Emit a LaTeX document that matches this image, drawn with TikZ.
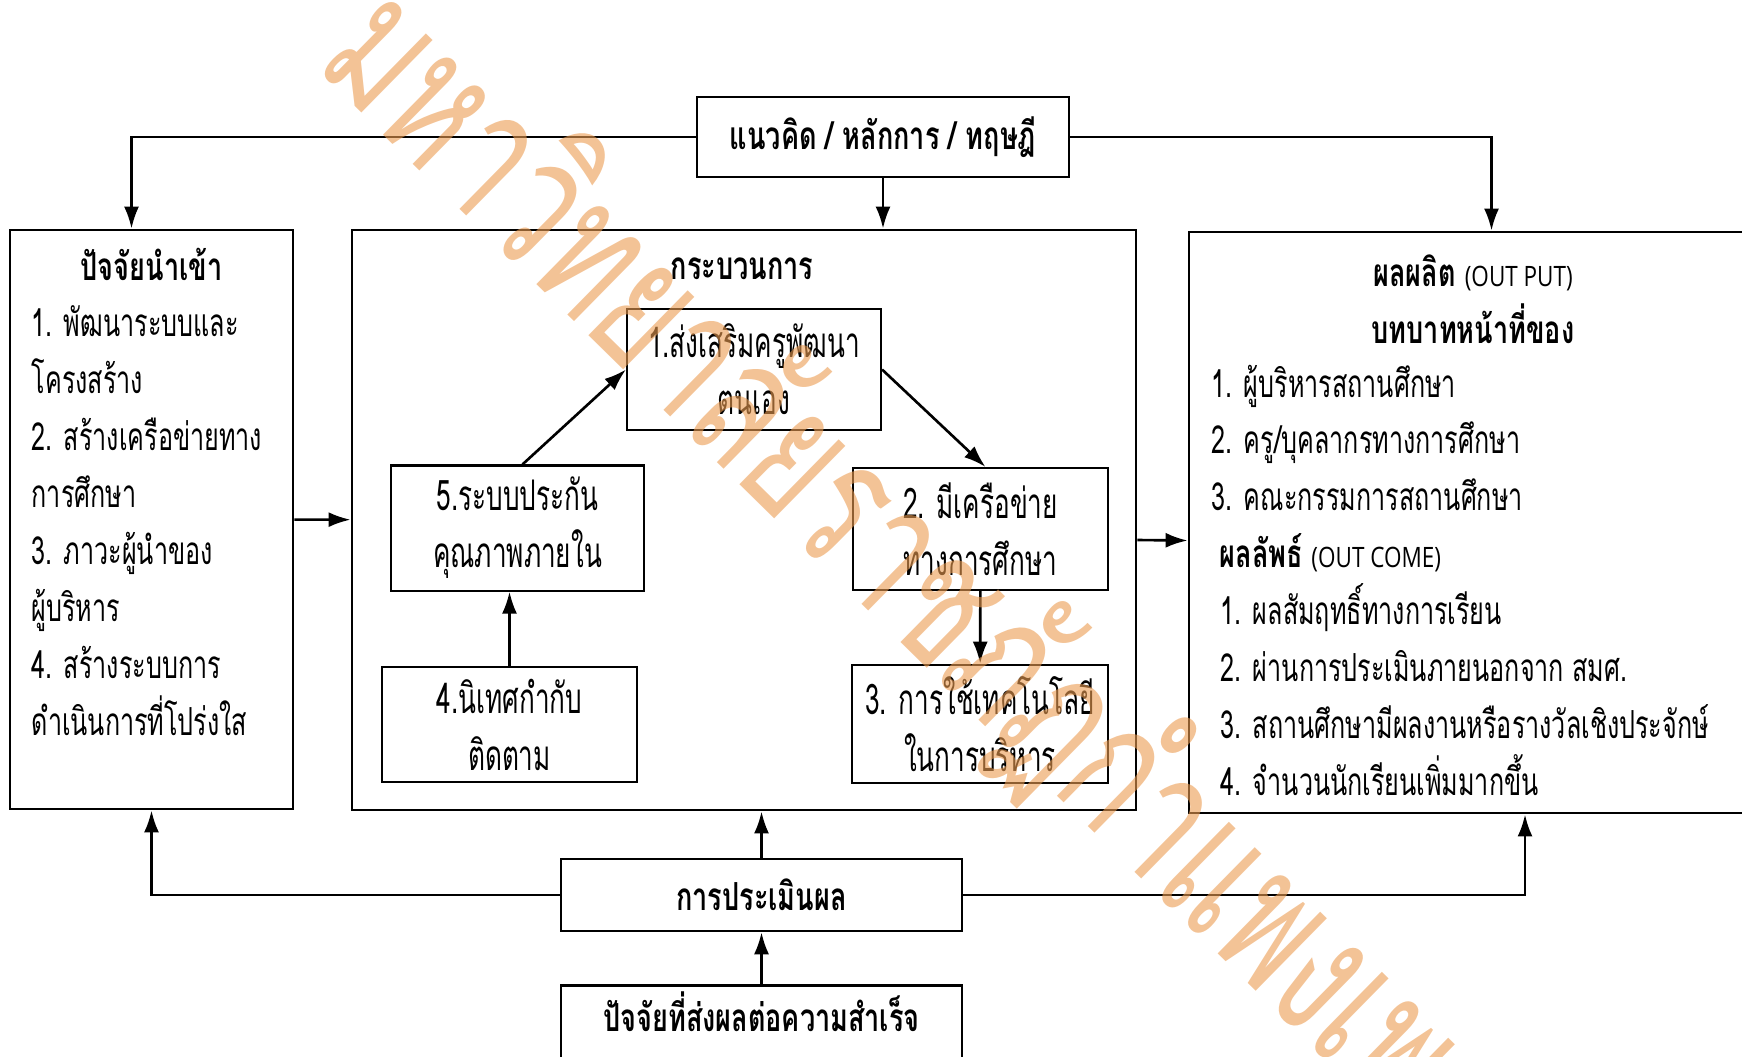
\documentclass[tikz,border=0pt]{standalone}
\usepackage{fontspec}
\setmainfont[Script=Thai,FakeStretch=0.65]{Loma}
\newfontfamily\headfont[Script=Thai,FakeStretch=0.7]{Loma}
\newfontfamily\condfont[Script=Thai,FakeStretch=0.62]{Loma}
\newfontfamily\stampfont[Script=Thai,FakeStretch=0.66]{Loma}
\newfontfamily\capsfont[FakeStretch=0.8]{Open Sans}
\usetikzlibrary{arrows.meta, positioning}
\definecolor{wmorange}{RGB}{235,155,80}
\tikzstyle{panel} = [rectangle, draw, line width=0.8pt]
\tikzstyle{stage} = [rectangle, draw, line width=0.6pt, align=center, font=\condfont\fontsize{12}{16.2}\selectfont]
\tikzstyle{header} = [rectangle, draw, line width=0.7pt, font=\headfont\bfseries\fontsize{11}{14}\selectfont]
\tikzstyle{listing} = [inner sep=0pt, align=left, font=\fontsize{11}{16.2}\selectfont]
\tikzstyle{title} = [inner sep=0pt, font=\headfont\bfseries\fontsize{11}{16.2}\selectfont]
\tikzstyle{link} = [line width=0.75pt, -{Latex[length=2.2mm,width=1.5mm]}]
\tikzstyle{stamp} = [text=wmorange, opacity=0.6, inner sep=0pt, font=\stampfont\fontsize{52}{52}\selectfont]

\begin{document}
\begin{tikzpicture}
  \useasboundingbox (0,0) rectangle (17.42,-10.56);
  % main boxes
  \node (theory) [header, minimum width=3.72cm, minimum height=0.8cm] at (8.83,-1.37) {แนวคิด / หลักการ / ทฤษฎี};
  \node (input) [panel, minimum width=2.83cm, minimum height=5.79cm] at (1.515,-5.195) {};
  \node (process) [panel, minimum width=7.84cm, minimum height=5.8cm] at (7.44,-5.2) {};
  \node (output) [panel, minimum width=5.81cm, minimum height=5.81cm] at (14.795,-5.225) {};
  \node (eval) [header, minimum width=4.01cm, minimum height=0.72cm] at (7.615,-8.95) {การประเมินผล};
  \node (factor) [header, minimum width=4.01cm, minimum height=0.9cm, text height=0.3cm, text depth=0.28cm, below=0.52cm of eval] {ปัจจัยที่ส่งผลต่อความสำเร็จ};

  % input text
  \node (inTitle) [title] at (1.515,-2.64) {ปัจจัยนำเข้า};
  \node (inList) [listing, anchor=north west] at (0.31,-3.05) {1. พัฒนาระบบและ\\โครงสร้าง\\2. สร้างเครือข่ายทาง\\การศึกษา\\3. ภาวะผู้นำของ\\ผู้บริหาร\\4. สร้างระบบการ\\ดำเนินการที่โปร่งใส};

  % process
  \node (procTitle) [title] at (7.42,-2.69) {กระบวนการ};
  \node (boost) [stage, minimum width=2.54cm, minimum height=1.21cm] at (7.54,-3.695) {1.ส่งเสริมครูพัฒนา\\ตนเอง};
  \node (qa) [stage, minimum width=2.53cm, minimum height=1.22cm] at (5.175,-5.28) {5.ระบบประกัน\\คุณภาพภายใน};
  \node (net) [stage, minimum width=2.55cm, minimum height=1.22cm] at (9.805,-5.29) {2. มีเครือข่าย\\ทางการศึกษา};
  \node (sup) [stage, minimum width=2.55cm, minimum height=1.13cm] at (5.095,-7.245) {4.นิเทศกำกับ\\ติดตาม};
  \node (tech) [stage, minimum width=2.56cm, minimum height=1.14cm] at (9.8,-7.24) {3. การใช้เทคโนโลยี\\ในการบริหาร};

  % output text
  \node (outTitle) [title, align=center] at (14.73,-2.99) {ผลผลิต {\mdseries\capsfont\fontsize{8}{10}\selectfont (OUT PUT)}\\บทบาทหน้าที่ของ};
  \node (outList) [listing, anchor=north west] at (12.11,-3.64) {1. ผู้บริหารสถานศึกษา\\2. ครู/บุคลากรทางการศึกษา\\3. คณะกรรมการสถานศึกษา\\\hspace{0.08cm}{\headfont\bfseries ผลลัพธ์} {\capsfont\fontsize{8}{10}\selectfont (OUT COME)}\\\hspace{0.09cm}1. ผลสัมฤทธิ์ทางการเรียน\\\hspace{0.09cm}2. ผ่านการประเมินภายนอกจาก สมศ.\\\hspace{0.09cm}3. สถานศึกษามีผลงานหรือรางวัลเชิงประจักษ์\\\hspace{0.09cm}4. จำนวนนักเรียนเพิ่มมากขึ้น};

  % connectors
  \draw [link] (theory.west) -| ([xshift=-0.2cm]input.north);
  \draw [link] (theory.east) -| ([xshift=0.12cm]output.north);
  \draw [link] (theory.south) -- (theory.south |- process.north);
  \draw [link] (input) -- (process);
  \draw [link] ([yshift=-0.2cm]process.east) -- ([yshift=-0.18cm]output.west);
  \draw [link] ([xshift=0.05cm]qa.north) -- (boost.west);
  \draw [link] (boost.east) -- ([xshift=0.05cm]net.north);
  \draw [link] (sup.north) -- (sup.north |- qa.south);
  \draw [link] (net) -- (tech);
  \draw [link] (eval.north) -- (eval.north |- process.south);
  \draw [link] (factor) -- (eval);
  \draw [link] (eval.west) -| (input.south);
  \draw [link] (eval.east) -| ([xshift=0.455cm]output.south);

  % watermark
  \node (stampText) [stamp, rotate=-44.5, anchor=west] at (3.52,-0.25) {มหาวิทยาลัยราชภัฏกำแพงเพชร};
\end{tikzpicture}
\end{document}
